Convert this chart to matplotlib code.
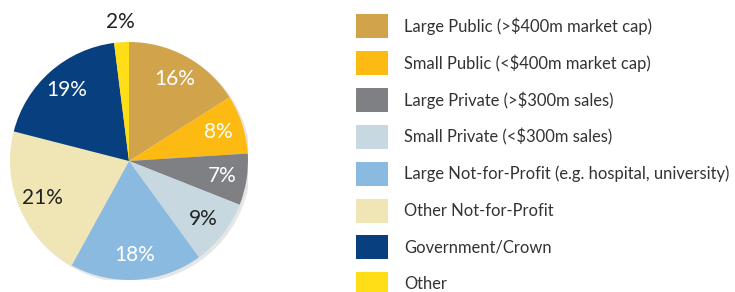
import matplotlib
matplotlib.use("Agg")
import matplotlib.pyplot as plt
from matplotlib.patches import Rectangle, Circle

categories = [
    "Large Public (>$400m market cap)",
    "Small Public (<$400m market cap)",
    "Large Private (>$300m sales)",
    "Small Private (<$300m sales)",
    "Large Not-for-Profit (e.g. hospital, university)",
    "Other Not-for-Profit",
    "Government/Crown",
    "Other",
]
values = [16, 8, 7, 9, 18, 21, 19, 2]
colors = ["#D1A34B", "#FDBA12", "#7F8084", "#C7D8E1", "#8BBAE0", "#F0E5B5", "#08407F", "#FFDE17"]
label_colors = ["white", "white", "white", "#222222", "white", "#222222", "white", "#222222"]

W, H = 735, 292
fig = plt.figure(figsize=(W / 100, H / 100), dpi=100)
fig.patch.set_facecolor("white")
plt.rcParams["font.family"] = ["Lato", "DejaVu Sans"]

cx, cy, r = 129, 161, 119
ax = fig.add_axes([(cx - r) / W, (H - cy - r) / H, 2 * r / W, 2 * r / H])
ax.set_xlim(-1, 1)
ax.set_ylim(-1, 1)
ax.set_aspect("equal")
ax.axis("off")

# subtle shadow
ax.add_patch(Circle((0.018, -0.018), 1.0, color="#e6e6e6", zorder=0))

wedges, texts = ax.pie(values, colors=colors, startangle=90, counterclock=False,
                       radius=1.0, labels=[f"{v}%" for v in values], labeldistance=0.79,
                       textprops=dict(fontsize=15), wedgeprops=dict(linewidth=0))
for t, c in zip(texts, label_colors):
    t.set_color(c)
    t.set_ha("center")
    t.set_va("center")
# small slice label sits outside
x, y = texts[-1].get_position()
texts[-1].set_position((x / 0.79 * 1.17, y / 0.79 * 1.17))
ax.set_xlim(-1, 1)
ax.set_ylim(-1, 1)

# legend
row0 = 26
step = 36.9
sw_x, sw_w, sw_h = 356, 32, 24
for i, (lab, col) in enumerate(zip(categories, colors)):
    yc = row0 + i * step
    fig.patches.append(Rectangle((sw_x / W, (H - yc - sw_h / 2) / H), sw_w / W, sw_h / H,
                                 transform=fig.transFigure, facecolor=col, edgecolor="none"))
    fig.text(404 / W, (H - yc) / H, lab, ha="left", va="center", fontsize=11.9, color="#333333")

fig.savefig("out.png", dpi=100)
